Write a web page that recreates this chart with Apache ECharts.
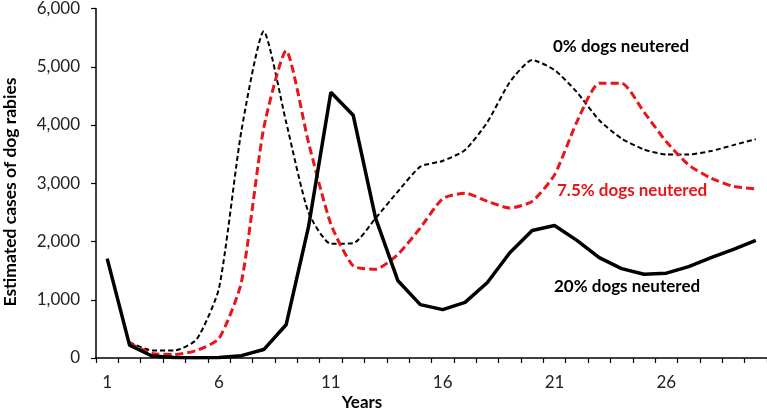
<!DOCTYPE html>
<html>
<head>
<meta charset="utf-8">
<script src="https://cdn.jsdelivr.net/npm/echarts@6/dist/echarts.min.js"></script>
<style>html,body{margin:0;padding:0;background:#fff;}#c{width:767px;height:412px;}</style>
</head>
<body>
<div id="c"></div>
<script>
var years = [1,2,3,4,5,6,7,8,9,10,11,12,13,14,15,16,17,18,19,20,21,22,23,24,25,26,27,28,29,30];
var neutered0 = [null,270,130,130,320,1200,3900,5610,4050,2500,1960,1970,2400,2860,3285,3383,3570,4050,4735,5115,4944,4565,4082,3768,3580,3495,3495,3553,3655,3758];
var neutered75 = [null,250,80,60,130,335,1300,3950,5275,3700,2300,1580,1524,1780,2233,2735,2830,2689,2575,2689,3144,4053,4718,4718,4223,3712,3314,3086,2945,2905];
var neutered20 = [1705,220,35,10,5,10,40,145,570,2250,4563,4167,2400,1325,916,830,955,1296,1807,2189,2274,2019,1722,1535,1439,1456,1569,1722,1865,2019];
var yTicks = [0,1000,2000,3000,4000,5000,6000];
var labels = {s0:'0% dogs neutered', s75:'7.5% dogs neutered', s20:'20% dogs neutered', x:'Years', y:'Estimated cases of dog rabies'};

var FONT = 'Lato, "Open Sans", sans-serif';
var chart = echarts.init(document.getElementById('c'), null, {renderer:'canvas'});
chart.setOption({
  animation:false,
  backgroundColor:'#fff',
  grid:{left:96, top:6, width:675, height:352, containLabel:false},
  xAxis:{
    type:'category', data:years, boundaryGap:true,
    axisLine:{lineStyle:{color:'#000', width:1.5}},
    axisTick:{show:true, interval:0, length:5, lineStyle:{color:'#000', width:1.2}},
    axisLabel:{interval:4, color:'#222', fontFamily:FONT, fontSize:17, margin:16},
    splitLine:{show:false}
  },
  yAxis:{
    type:'value', min:yTicks[0], max:yTicks[yTicks.length-1], interval:1000,
    axisLine:{show:true, lineStyle:{color:'#000', width:1.5}},
    axisTick:{show:true, length:5, lineStyle:{color:'#000', width:1.2}},
    axisLabel:{color:'#222', fontFamily:FONT, fontSize:17, margin:16,
      formatter:function(v){return v.toLocaleString('en-US');}},
    splitLine:{show:false}
  },
  series:[
    {type:'line', data:neutered0, symbol:'none', smooth:0.2, z:3,
     lineStyle:{color:'#000', width:2, type:[5,3]}},
    {type:'line', data:neutered75, symbol:'none', smooth:0.2, z:4,
     lineStyle:{color:'#e8151b', width:3, type:[8,4]}},
    {type:'line', data:neutered20, symbol:'none', smooth:false, z:5,
     lineStyle:{color:'#000', width:3.5}}
  ],
  graphic:[
    {type:'text', left:553, top:38, style:{text:labels.s0, fill:'#000', font:'bold 17px '+FONT}},
    {type:'text', left:557, top:182, style:{text:labels.s75, fill:'#e8151b', font:'bold 17px '+FONT}},
    {type:'text', left:554, top:278, style:{text:labels.s20, fill:'#000', font:'bold 17px '+FONT}},
    {type:'text', x:362, y:403, style:{text:labels.x, fill:'#000', font:'bold 17px '+FONT, align:'center', verticalAlign:'middle'}},
    {type:'text', x:10, y:192, rotation:Math.PI/2, style:{text:labels.y, fill:'#000', font:'bold 17.5px '+FONT, align:'center', verticalAlign:'middle'}}
  ]
});
</script>
</body>
</html>
